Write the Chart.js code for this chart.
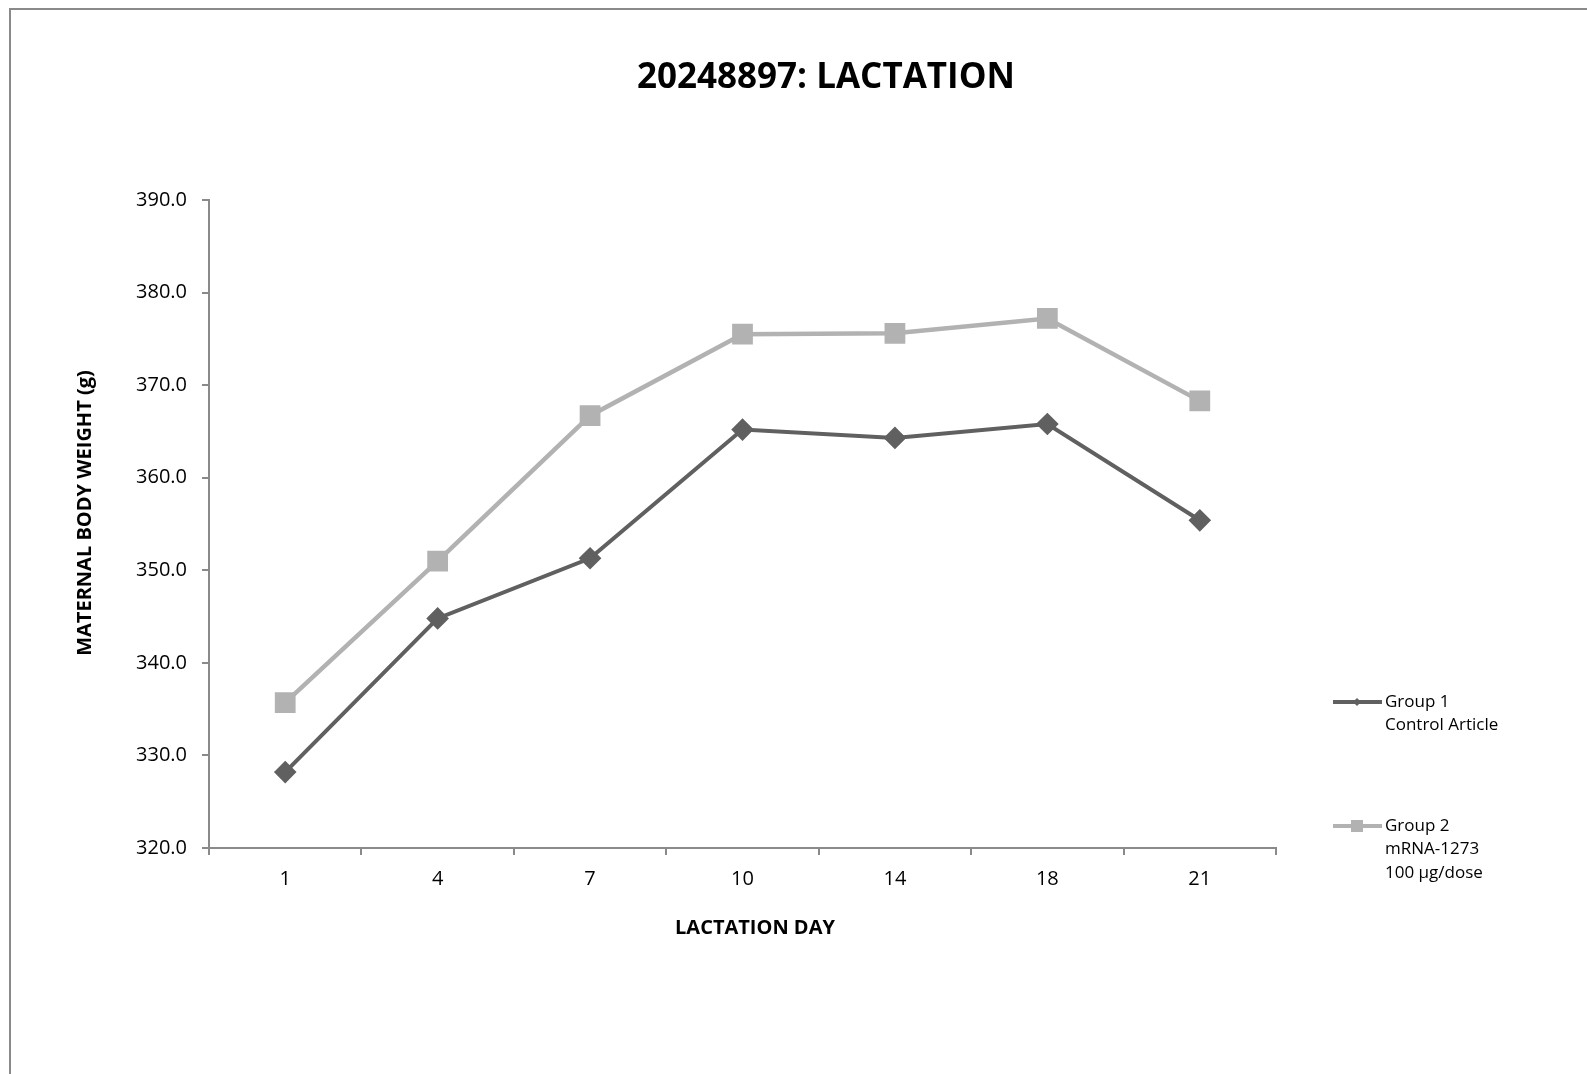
<!DOCTYPE html>
<html>
<head>
<meta charset="utf-8">
<script src="https://cdn.jsdelivr.net/npm/chart.js@4.4.1/dist/chart.umd.min.js"></script>
<style>
  html, body { margin: 0; padding: 0; background: #fff; overflow: hidden; }
  #frame { position: absolute; left: 9px; top: 8px; width: 1700px; height: 1200px; border: 2px solid #8a8a8a; }
  #lactationChart { position: absolute; left: 0; top: 0; }
</style>
</head>
<body>
<div id="frame"></div>
<canvas id="lactationChart" width="1587" height="1074"></canvas>
<script>
// lactation days (categories)
const lactationDays = ['1', '4', '7', '10', '14', '18', '21'];
// mean maternal body weight (g)
const group1Weights = [328.2, 344.8, 351.3, 365.2, 364.3, 365.8, 355.4];
const group2Weights = [335.7, 351.0, 366.7, 375.5, 375.6, 377.2, 368.3];
const group1Label = ['Group 1', 'Control Article'];
const group2Label = ['Group 2', 'mRNA-1273', '100 \u00b5g/dose'];
const chartTitle = '20248897: LACTATION';
const xTitle = 'LACTATION DAY';
const yTitle = 'MATERNAL BODY WEIGHT (g)';

const FONT = "'Open Sans', 'Liberation Sans', sans-serif";

// title, axis titles and legend drawn on the canvas (Excel-style layout)
const titleLegendPlugin = {
    id: 'titleLegend',
    afterDraw(chart) {
        const ctx = chart.ctx;
        ctx.save();
        ctx.fillStyle = '#000';
        ctx.font = 'bold 35px ' + FONT;
        ctx.textAlign = 'center';
        ctx.textBaseline = 'middle';
        ctx.fillText(chartTitle, 826, 78);

        // axis titles
        ctx.font = 'bold 20px ' + FONT;
        ctx.fillText(xTitle, 755, 928);
        ctx.save();
        ctx.translate(85, 513);
        ctx.rotate(-Math.PI / 2);
        ctx.fillText(yTitle, 0, 0);
        ctx.restore();

        const entries = [
            { ds: chart.data.datasets[0], y: 702, size: 4 },
            { ds: chart.data.datasets[1], y: 826, size: 6 }
        ];
        entries.forEach(function (e) {
            ctx.strokeStyle = e.ds.borderColor;
            ctx.lineWidth = 4;
            ctx.beginPath();
            ctx.moveTo(1333, e.y);
            ctx.lineTo(1382, e.y);
            ctx.stroke();
            ctx.fillStyle = e.ds.pointBackgroundColor;
            ctx.beginPath();
            if (e.ds.pointStyle === 'rectRot') {
                ctx.moveTo(1357, e.y - e.size);
                ctx.lineTo(1357 + e.size, e.y);
                ctx.lineTo(1357, e.y + e.size);
                ctx.lineTo(1357 - e.size, e.y);
                ctx.closePath();
            } else {
                ctx.rect(1357 - e.size, e.y - e.size, e.size * 2, e.size * 2);
            }
            ctx.fill();
            ctx.fillStyle = '#000';
            ctx.font = '17px ' + FONT;
            ctx.textAlign = 'left';
            ctx.textBaseline = 'middle';
            e.ds.label.forEach(function (t, i) {
                ctx.fillText(t, 1385, e.y + i * 23.5);
            });
        });
        ctx.restore();
    }
};

const ctx = document.getElementById('lactationChart').getContext('2d');
new Chart(ctx, {
    type: 'line',
    data: {
        labels: lactationDays,
        datasets: [{
            label: group1Label,
            data: group1Weights,
            borderColor: '#606060',
            backgroundColor: '#606060',
            pointBackgroundColor: '#606060',
            pointBorderColor: '#606060',
            pointStyle: 'rectRot',
            pointRadius: 8.5,
            pointHoverRadius: 8.5,
            borderWidth: 4,
            tension: 0
        }, {
            label: group2Label,
            data: group2Weights,
            borderColor: '#b2b2b2',
            backgroundColor: '#b2b2b2',
            pointBackgroundColor: '#b2b2b2',
            pointBorderColor: '#b2b2b2',
            pointStyle: 'rect',
            pointRadius: 11.5,
            pointHoverRadius: 11.5,
            borderWidth: 4.5,
            tension: 0
        }]
    },
    options: {
        responsive: false,
        animation: false,
        layout: {
            padding: { left: 69, right: 311, top: 200, bottom: 130 }
        },
        plugins: {
            legend: { display: false },
            title: { display: false },
            tooltip: { enabled: false }
        },
        scales: {
            x: {
                offset: true,
                grid: {
                    offset: true,
                    drawOnChartArea: false,
                    drawTicks: true,
                    tickLength: 7,
                    color: '#8a8a8a',
                    lineWidth: 2
                },
                border: { color: '#8a8a8a', width: 2 },
                ticks: {
                    color: '#000',
                    padding: 12,
                    font: { family: FONT, size: 20 }
                },
                afterFit(scale) { scale.height = 96; }
            },
            y: {
                min: 320,
                max: 390,
                grid: {
                    drawOnChartArea: false,
                    drawTicks: true,
                    tickLength: 7,
                    color: '#8a8a8a',
                    lineWidth: 2
                },
                border: { color: '#8a8a8a', width: 2 },
                ticks: {
                    stepSize: 10,
                    color: '#000',
                    padding: 15,
                    font: { family: FONT, size: 20 },
                    callback: function (v) { return v.toFixed(1); }
                },
                afterFit(scale) { scale.width = 140; }
            }
        }
    },
    plugins: [titleLegendPlugin]
});
</script>
</body>
</html>
